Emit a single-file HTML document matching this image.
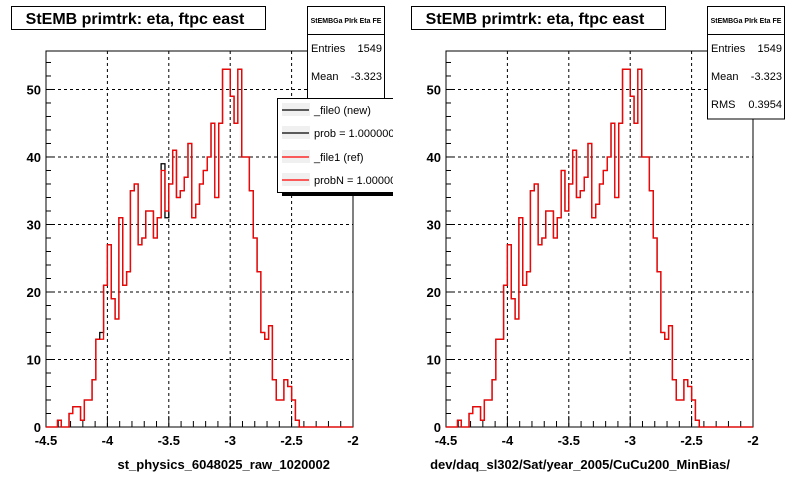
<!DOCTYPE html>
<html><head><meta charset="utf-8"><style>
html,body{margin:0;padding:0;background:#fff;}
svg{display:block;font-family:"Liberation Sans",Arial,sans-serif;}
</style></head>
<body>
<svg id="root" width="800" height="480" viewBox="0 0 800 480" xmlns="http://www.w3.org/2000/svg">
<defs><clipPath id="leftPadClip"><rect x="0" y="0" width="393" height="480"/></clipPath></defs>
</svg>
<script>
// Histogram: 80 bins from -4.5 to -2 (eta)
const binLow = -4.5, binHigh = -2, nBins = 80;
const firstFilledBin = 3;
const leftRed = [1,0,0,2,3,3,1,4,4,7,13,13,21,27,19,16,31,21,23,35,36,27,28,32,32,28,31,38,32,36,41,34,35,37,42,31,33,36,38,40,45,34,45,53,53,49,45,53,40,40,35,28,23,14,13,15,7,4,4,7,6,4,1];
const leftBlack = [1,0,0,2,3,3,1,4,4,7,13,14,21,27,19,16,31,21,23,35,36,27,28,32,32,28,31,39,31,36,41,34,35,37,42,31,33,36,38,40,45,34,45,53,53,49,45,53,40,40,35,28,23,14,13,15,7,4,4,7,6,4,1];
const rightRed = [1,0,0,2,3,3,1,4,4,7,13,13,21,27,19,16,31,21,23,35,36,27,28,32,32,28,31,38,32,36,41,34,35,37,42,31,33,36,38,40,45,34,45,53,53,49,45,53,40,40,35,28,23,14,13,15,7,4,4,7,6,4,1];
const rightBlack = rightRed.slice();
const xTickLabels = ["-4.5","-4","-3.5","-3","-2.5","-2"];
const xTickValues = [-4.5,-4,-3.5,-3,-2.5,-2];
const yTickValues = [0,10,20,30,40,50];
const yMax = 55.7;

const NS = "http://www.w3.org/2000/svg";
const root = document.getElementById('root');
function mk(tag, attrs, parent){
  const e = document.createElementNS(NS, tag);
  for (const k in attrs) e.setAttribute(k, attrs[k]);
  (parent||root).appendChild(e);
  return e;
}

function drawPanel(ox, title, xtitle, red, black, showRms, withLegend, prefix){
  const g = mk('g', {});
  
  
  const L = ox + 46, R = ox + 353, T = 51, B = 427;
  const xs = v => L + (v - binLow) / (binHigh - binLow) * (R - L);
  const ys = c => B - c / yMax * (B - T);

  const fr = mk('rect', {x:L, y:T, width:R-L, height:B-T, fill:'#fff', stroke:'#000', 'stroke-width':1}, g);
  
  

  for (const v of xTickValues.slice(1, -1)) {
    const l = mk('line', {x1:xs(v), x2:xs(v), y1:T, y2:B, stroke:'#000', 'stroke-dasharray':'3,3', 'stroke-width':1}, g);
    
    
  }
  for (const v of yTickValues.slice(1)) {
    const l = mk('line', {x1:L, x2:R, y1:ys(v), y2:ys(v), stroke:'#000', 'stroke-dasharray':'3,3', 'stroke-width':1}, g);
    
    
  }

  for (let v = 0; v <= 54; v += 2) {
    const t = mk('line', {x1:L, x2:L + (v % 10 === 0 ? 8 : 5), y1:ys(v), y2:ys(v), stroke:'#000'}, g);
    
    
  }
  for (let i = 0; i <= 25; i++) {
    const v = binLow + i * 0.1;
    const t = mk('line', {x1:xs(v), x2:xs(v), y1:B, y2:B - (i % 5 === 0 ? 11 : 6), stroke:'#000'}, g);
    
    
  }

  function hist(vals, color, name){
    const w = (binHigh - binLow) / nBins;
    let d = 'M' + xs(binLow) + ',' + ys(0);
    for (let b = 0; b < nBins; b++) {
      const idx = b - firstFilledBin;
      const c = (idx >= 0 && idx < vals.length) ? vals[idx] : 0;
      const x0 = xs(binLow + b * w), x1 = xs(binLow + (b + 1) * w);
      d += ' L' + x0 + ',' + ys(c) + ' L' + x1 + ',' + ys(c);
    }
    const p = mk('path', {d:d, fill:'none', stroke:color, 'stroke-width':1.3}, g);
    
    
  }
  hist(black, '#000', prefix + '-hist-new');
  hist(red, '#f00', prefix + '-hist-ref');

  xTickValues.forEach((v, i) => {
    const t = mk('text', {x:xs(v), y:B + 18, 'text-anchor':'middle', 'font-size':13, 'font-weight':'bold'}, g);
    t.textContent = xTickLabels[i];
    
    
  });
  yTickValues.forEach(v => {
    const t = mk('text', {x:L - 5, y:ys(v) + 5, 'text-anchor':'end', 'font-size':13, 'font-weight':'bold'}, g);
    t.textContent = String(v);
    
    
  });

  const xt = mk('text', {x:ox + 330, y:469, 'text-anchor':'end', 'font-size':13, 'font-weight':'bold'}, g);
  xt.textContent = xtitle;
  
  

  const tb = mk('rect', {x:ox + 11.5, y:6.5, width:254, height:23, fill:'#fff', stroke:'#000'}, g);
  
  
  const tt = mk('text', {x:ox + 135, y:24, 'text-anchor':'middle', 'font-size':16, 'font-weight':'bold'}, g);
  tt.textContent = title;
  
  

  const sb = mk('rect', {x:ox + 307.5, y:6.5, width:77, height: showRms ? 112.5 : 120, fill:'#fff', stroke:'#000'}, g);
  
  
  mk('line', {x1:ox + 307.5, x2:ox + 384.5, y1:34.5, y2:34.5, stroke:'#000'}, g);
  const st = mk('text', {x:ox + 346, y:23, 'text-anchor':'middle', 'font-size':7, 'font-weight':'bold'}, g);
  st.textContent = 'StEMBGa PIrk Eta FE';
  
  
  const rows = [['Entries','1549',52],['Mean','-3.323',80],['RMS','0.3954',108]];
  rows.forEach(r => {
    const a = mk('text', {x:ox + 311, y:r[2], 'font-size':11}, g);
    a.textContent = r[0];
    
    
    const b = mk('text', {x:ox + 382, y:r[2], 'text-anchor':'end', 'font-size':11}, g);
    b.textContent = r[1];
    
    
  });

  if (withLegend) {
    const lg = mk('g', {'clip-path':'url(#leftPadClip)'}, g);
    
    
    mk('rect', {x:ox + 282, y:192, width:130, height:4, fill:'#000'}, lg);
    mk('rect', {x:ox + 277.5, y:98.5, width:140, height:94, fill:'#fff', stroke:'#000'}, lg);
    const items = [['_file0 (new)','#000',110],['prob = 1.000000','#000',133],['_file1 (ref)','#f00',157],['probN = 1.000000','#f00',180]];
    items.forEach(it => {
      const e = mk('g', {}, lg);
      
      
      mk('rect', {x:ox + 282, y:it[2] - 7, width:28, height:13, fill:'#f0f0f0'}, e);
      mk('line', {x1:ox + 282, x2:ox + 309, y1:it[2], y2:it[2], stroke:it[1], 'stroke-width':1.3}, e);
      const t = mk('text', {x:ox + 314, y:it[2] + 4, 'font-size':11}, e);
      t.textContent = it[0];
    });
  }
}

drawPanel(0, 'StEMB primtrk: eta, ftpc east', 'st_physics_6048025_raw_1020002', leftRed, leftBlack, false, true, 'left');
drawPanel(400, 'StEMB primtrk: eta, ftpc east', 'dev/daq_sl302/Sat/year_2005/CuCu200_MinBias/', rightRed, rightBlack, true, false, 'right');
</script>
</body></html>
